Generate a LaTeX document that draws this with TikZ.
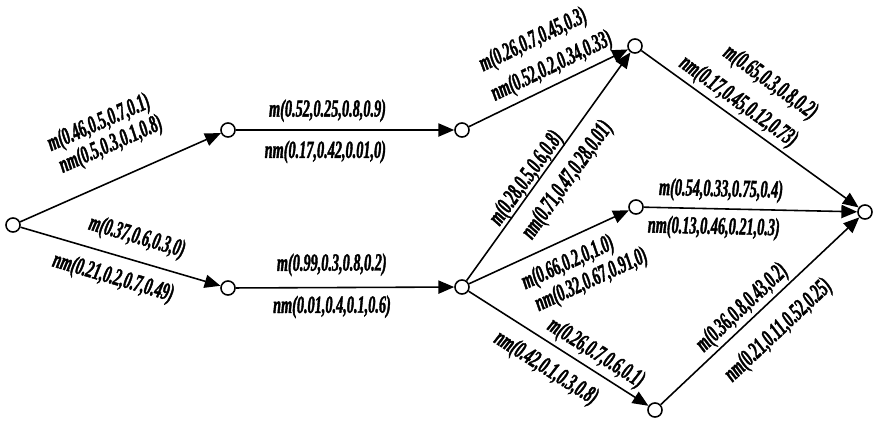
\documentclass[tikz,border=0pt]{standalone}
\usepackage{fontspec}
\setmainfont{Liberation Serif}
\newfontfamily\edgefont[FakeStretch=0.58, FakeBold=1.5]{Liberation Serif Bold Italic}
\usetikzlibrary{arrows.meta, positioning}
\tikzstyle{state} = [circle, draw=black, line width=0.9pt, fill=white, minimum size=8pt, inner sep=0pt]
\tikzstyle{arrow} = [line width=0.9pt, -{Triangle[length=9pt,width=7.5pt]}]
\tikzstyle{weight} = [sloped, inner sep=0pt, font=\edgefont\fontsize{14}{14}\selectfont]

\begin{document}
\begin{tikzpicture}[x=0.02cm, y=0.02cm]
		\useasboundingbox (0,0) rectangle (875,424);
		\node (S1) [state] at (13,199) {};
		\node (S2) [state] at (228,294) {};
		\node (S3) [state] at (228,136) {};
		\node (S4) [state] at (462,294) {};
		\node (S5) [state] at (462,137) {};
		\node (S6) [state] at (635,378) {};
		\node (S7) [state] at (636,217) {};
		\node (S8) [state] at (655,14) {};
		\node (S9) [state] at (865,212) {};
		
		\draw [arrow] (S1) -- node[weight, pos=0.51, yshift=33pt]{m(0.46,0.5,0.7,0.1)}
			node[weight, pos=0.52, yshift=19pt]{nm(0.5,0.3,0.1,0.8)} (S2);
		\draw [arrow] (S1) -- node[weight, pos=0.55, yshift=13pt]{m(0.37,0.6,0.3,0)}
			node[weight, pos=0.495, yshift=-13pt]{nm(0.21,0.2,0.7,0.49)} (S3);
		\draw [arrow] (S2) -- node[weight, pos=0.42, yshift=11pt]{m(0.52,0.25,0.8,0.9)}
			node[weight, pos=0.41, yshift=-12.5pt]{nm(0.17,0.42,0.01,0)} (S4);
		\draw [arrow] (S3) -- node[weight, pos=0.44, yshift=13pt]{m(0.99,0.3,0.8,0.2)}
			node[weight, pos=0.44, yshift=-11pt]{nm(0.01,0.4,0.1,0.6)} (S5);
		\draw [arrow] (S4) -- node[weight, pos=0.54, yshift=28pt]{m(0.26,0.7,0.45,0.3)}
			node[weight, pos=0.57, yshift=10pt]{nm(0.52,0.2,0.34,0.33)} (S6);
		\draw [arrow] (S5) -- node[weight, pos=0.42, yshift=6pt]{m(0.28,0.5,0.6,0.8)}
			node[weight, pos=0.50, yshift=-13.5pt]{nm(0.71,0.47,0.28,0.01)} (S6);
		\draw [arrow] (S5) -- node[weight, pos=0.56, yshift=-13pt]{m(0.66,0.2,0,1.0)}
			node[weight, pos=0.64, yshift=-27.5pt]{nm(0.32,0.67,0.91,0)} (S7);
		\draw [arrow] (S5) -- node[weight, pos=0.66, yshift=9pt]{m(0.26,0.7,0.6,0.1)}
			node[weight, pos=0.50, yshift=-13.5pt]{nm(0.42,0.1,0.3,0.8)} (S8);
		\draw [arrow] (S6) -- node[weight, pos=0.46, yshift=28pt]{m(0.65,0.3,0.8,0.2)}
			node[weight, pos=0.405, yshift=8.5pt]{nm(0.17,0.45,0.12,0.73)} (S9);
		\draw [arrow] (S7) -- node[weight, pos=0.36, yshift=10.5pt]{m(0.54,0.33,0.75,0.4)}
			node[weight, pos=0.33, yshift=-11pt]{nm(0.13,0.46,0.21,0.3)} (S9);
		\draw [arrow] (S8) -- node[weight, pos=0.46, yshift=8pt]{m(0.36,0.8,0.43,0.2)}
			node[weight, pos=0.50, yshift=-15.5pt]{nm(0.21,0.11,0.52,0.25)} (S9);
\end{tikzpicture}
\end{document}
